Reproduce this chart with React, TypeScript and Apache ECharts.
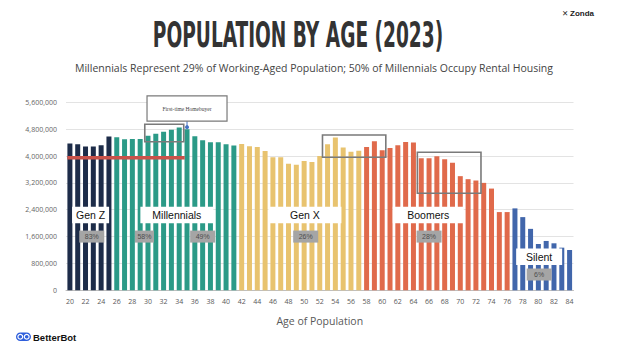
import React, { useEffect, useRef } from 'react';
import * as echarts from 'echarts';

const ages = ['20','21','22','23','24','25','26','27','28','29','30','31','32','33','34','35','36','37','38','39','40','41','42','43','44','45','46','47','48','49','50','51','52','53','54','55','56','57','58','59','60','61','62','63','64','65','66','67','68','69','70','71','72','73','74','75','76','77','78','79','80','81','82','83','84'];

const population = [
  4370000, 4350000, 4280000, 4280000, 4320000, 4580000,
  4560000, 4500000, 4510000, 4510000, 4600000, 4660000, 4720000, 4780000, 4850000, 4800000, 4590000, 4470000, 4410000, 4410000, 4350000, 4310000,
  4360000, 4290000, 4270000, 4150000, 3960000, 3960000, 3770000, 3740000, 3850000, 3820000, 4000000, 4350000, 4550000, 4250000, 4130000, 4160000,
  4270000, 4440000, 4170000, 4240000, 4320000, 4420000, 4400000, 3930000, 3930000, 3990000, 3900000, 3800000, 3400000, 3310000, 3270000, 3200000, 3030000, 2330000, 2330000,
  2440000, 2180000, 1830000, 1380000, 1470000, 1400000, 1270000, 1200000,
];

const generationNames = ['Gen Z', 'Millennials', 'Gen X', 'Boomers', 'Silent'];
const generationFirstAge = [20, 26, 42, 58, 77];
const generationLastAge = [25, 41, 57, 76, 84];
const generationColors = ['#1d2c49', '#2b9a87', '#e8c36f', '#e06a4b', '#4166ab'];

// annotation anchors in data units (age, population)
const genLabelAge = [22.65, 33.7, 50.1, 65.9, 80.1];
const genLabelValue = [2240000, 2240000, 2240000, 2240000, 1000000];

const shareLabels = ['83%', '58%', '49%', '26%', '28%', '6%'];
const shareAge = [22.8, 29.55, 37.0, 50.2, 66.0, 80.1];
const shareValue = [1600000, 1600000, 1600000, 1600000, 1600000, 470000];

const focusBoxes = [
  [29.59, 34.58, 4945000, 4427000],
  [52.35, 60.46, 4626000, 3962000],
  [64.5, 72.65, 4111000, 2889000],
];

const ownershipLine = [[19.67, 34.7, 3950000]];

const calloutText = 'First-time Homebuyer';
const calloutAnchor = [[35, 5415000, 5040000, 4860000]];

const titleText = 'POPULATION BY AGE (2023)';
const subtitleText = 'Millennials Represent 29% of Working-Aged Population; 50% of Millennials Occupy Rental Housing';
const xAxisName = 'Age of Population';

const genBoxWidths = [37, 73, 73, 71, 46];

function colorForAge(age: number) {
  for (let i = 0; i < generationNames.length; i++) {
    if (age >= generationFirstAge[i] && age <= generationLastAge[i]) return generationColors[i];
  }
  return '#999';
}

export default function App() {
  const ref = useRef<HTMLDivElement>(null);
  useEffect(() => {
    if (!ref.current) return;
    const chart = echarts.init(ref.current, undefined, { renderer: 'svg' });
    const barData = population.map((v, i) => ({
      value: v,
      itemStyle: { color: colorForAge(Number(ages[i])) },
    }));

    chart.setOption({
      animation: false,
      backgroundColor: '#ffffff',
      grid: { left: 66, right: 50.5, top: 102.3, bottom: 60.7, containLabel: false },
      xAxis: [
        {
          type: 'category',
          data: ages,
          axisTick: { show: false },
          axisLine: { lineStyle: { color: '#bfbfbf', width: 1 } },
          axisLabel: { interval: 1, color: '#595959', fontSize: 7, margin: 8, fontFamily: 'Open Sans' },
          name: xAxisName,
          nameLocation: 'middle',
          nameGap: 25,
          nameTextStyle: { color: '#595959', fontSize: 10.5, fontFamily: 'Open Sans' },
        },
        { type: 'value', min: 19.5, max: 84.5, show: false },
      ],
      yAxis: {
        type: 'value',
        min: 0,
        max: 5600000,
        interval: 800000,
        axisLine: { show: false },
        axisTick: { show: false },
        splitLine: { lineStyle: { color: '#e3e3e3', width: 1 } },
        axisLabel: {
          color: '#666666',
          fontSize: 7,
          margin: 9,
          fontFamily: 'Open Sans',
          formatter: (v: number) => v.toLocaleString('en-US'),
        },
      },
      graphic: [
        {
          type: 'text',
          x: 298,
          y: 35,
          scaleX: 0.59,
          style: {
            text: titleText,
            fill: '#333333',
            font: 'bold 35px "DejaVu Sans Condensed", "DejaVu Sans"',
            textAlign: 'center',
            textVerticalAlign: 'middle',
          },
        },
        {
          type: 'text',
          x: 314,
          y: 68,
          style: {
            text: subtitleText,
            fill: '#444444',
            font: '10.5px "Open Sans"',
            textAlign: 'center',
            textVerticalAlign: 'middle',
          },
        },
        {
          type: 'text',
          x: 562,
          y: 13,
          style: { text: '✕', fill: '#222', font: 'bold 7.5px "DejaVu Sans"', textVerticalAlign: 'middle' },
        },
        {
          type: 'text',
          x: 570,
          y: 13,
          style: { text: 'Zonda', fill: '#222', font: 'bold 8px "Liberation Sans"', textVerticalAlign: 'middle' },
        },
        {
          type: 'rect',
          shape: { x: 16, y: 332.5, width: 15, height: 8.5, r: 4.25 },
          style: { fill: '#2f5fdc' },
        },
        { type: 'circle', shape: { cx: 20.3, cy: 336.75, r: 2.4 }, style: { fill: '#2f5fdc', stroke: '#ffffff', lineWidth: 1.2 } },
        { type: 'circle', shape: { cx: 26.7, cy: 336.75, r: 2.4 }, style: { fill: '#2f5fdc', stroke: '#ffffff', lineWidth: 1.2 } },
        {
          type: 'text',
          x: 33,
          y: 337,
          style: { text: 'BetterBot', fill: '#111', font: 'bold 9.5px "Liberation Sans"', textVerticalAlign: 'middle' },
        },
      ],
      series: [
        {
          type: 'bar',
          data: barData,
          barCategoryGap: '36%',
          z: 2,
        },
        {
          type: 'custom',
          xAxisIndex: 1,
          z: 5,
          data: ownershipLine,
          encode: { x: [0, 1], y: 2 },
          renderItem: (params: any, api: any) => {
            const a = api.coord([api.value(0), api.value(2)]);
            const b = api.coord([api.value(1), api.value(2)]);
            return {
              type: 'line',
              shape: { x1: a[0], y1: a[1], x2: b[0], y2: b[1] },
              style: { stroke: '#c9524a', lineWidth: 3.4 },
            };
          },
        },
        {
          type: 'custom',
          xAxisIndex: 1,
          z: 6,
          data: focusBoxes,
          encode: { x: [0, 1], y: [2, 3] },
          renderItem: (params: any, api: any) => {
            const a = api.coord([api.value(0), api.value(2)]);
            const b = api.coord([api.value(1), api.value(3)]);
            return {
              type: 'rect',
              shape: { x: a[0], y: a[1], width: b[0] - a[0], height: b[1] - a[1] },
              style: { fill: 'none', stroke: '#7a7a7a', lineWidth: 1.6 },
            };
          },
        },
        {
          type: 'custom',
          xAxisIndex: 1,
          z: 7,
          data: generationNames.map((n, i) => [genLabelAge[i], genLabelValue[i]]),
          encode: { x: 0, y: 1 },
          renderItem: (params: any, api: any) => {
            const i = params.dataIndex;
            const c = api.coord([api.value(0), api.value(1)]);
            const w = genBoxWidths[i];
            const h = 16.5;
            return {
              type: 'group',
              children: [
                { type: 'rect', shape: { x: c[0] - w / 2, y: c[1] - h / 2, width: w, height: h }, style: { fill: '#ffffff' } },
                {
                  type: 'text',
                  x: c[0],
                  y: c[1],
                  style: {
                    text: generationNames[i],
                    fill: '#111111',
                    font: '10.5px "Liberation Sans"',
                    textAlign: 'center',
                    textVerticalAlign: 'middle',
                  },
                },
              ],
            };
          },
        },
        {
          type: 'custom',
          xAxisIndex: 1,
          z: 7,
          data: shareLabels.map((s, i) => [shareAge[i], shareValue[i]]),
          encode: { x: 0, y: 1 },
          renderItem: (params: any, api: any) => {
            const i = params.dataIndex;
            const c = api.coord([api.value(0), api.value(1)]);
            const w = i === 1 ? 19 : 25;
            const h = 12;
            return {
              type: 'group',
              children: [
                { type: 'rect', shape: { x: c[0] - w / 2, y: c[1] - h / 2, width: w, height: h }, style: { fill: '#a5a5a5' } },
                {
                  type: 'text',
                  x: c[0],
                  y: c[1],
                  style: {
                    text: shareLabels[i],
                    fill: '#4d4d4d',
                    font: '7px "Liberation Sans"',
                    textAlign: 'center',
                    textVerticalAlign: 'middle',
                  },
                },
              ],
            };
          },
        },
        {
          type: 'custom',
          xAxisIndex: 1,
          z: 8,
          data: calloutAnchor,
          encode: { x: 0, y: [1, 2, 3] },
          renderItem: (params: any, api: any) => {
            const c = api.coord([api.value(0), api.value(1)]);
            const bottom = api.coord([api.value(0), api.value(2)]);
            const dot = api.coord([api.value(0), api.value(3)]);
            const w = 80;
            const h = (bottom[1] - c[1]) * 2;
            return {
              type: 'group',
              children: [
                {
                  type: 'line',
                  shape: { x1: dot[0], y1: bottom[1], x2: dot[0], y2: dot[1] },
                  style: { stroke: '#4472c4', lineWidth: 1 },
                },
                {
                  type: 'circle',
                  shape: { cx: dot[0], cy: dot[1], r: 2 },
                  style: { fill: '#4472c4' },
                },
                {
                  type: 'rect',
                  shape: { x: c[0] - w / 2, y: c[1] - h / 2, width: w, height: h },
                  style: { fill: '#ffffff', stroke: '#7a7a7a', lineWidth: 1.2 },
                },
                {
                  type: 'text',
                  x: c[0],
                  y: c[1],
                  style: {
                    text: calloutText,
                    fill: '#444444',
                    font: '5.5px "Liberation Serif"',
                    textAlign: 'center',
                    textVerticalAlign: 'middle',
                  },
                },
              ],
            };
          },
        },
      ],
    });
    return () => chart.dispose();
  }, []);
  return <div ref={ref} style={{ position: 'fixed', left: 0, top: 0, width: 624, height: 351, background: '#fff' }} />;
}
